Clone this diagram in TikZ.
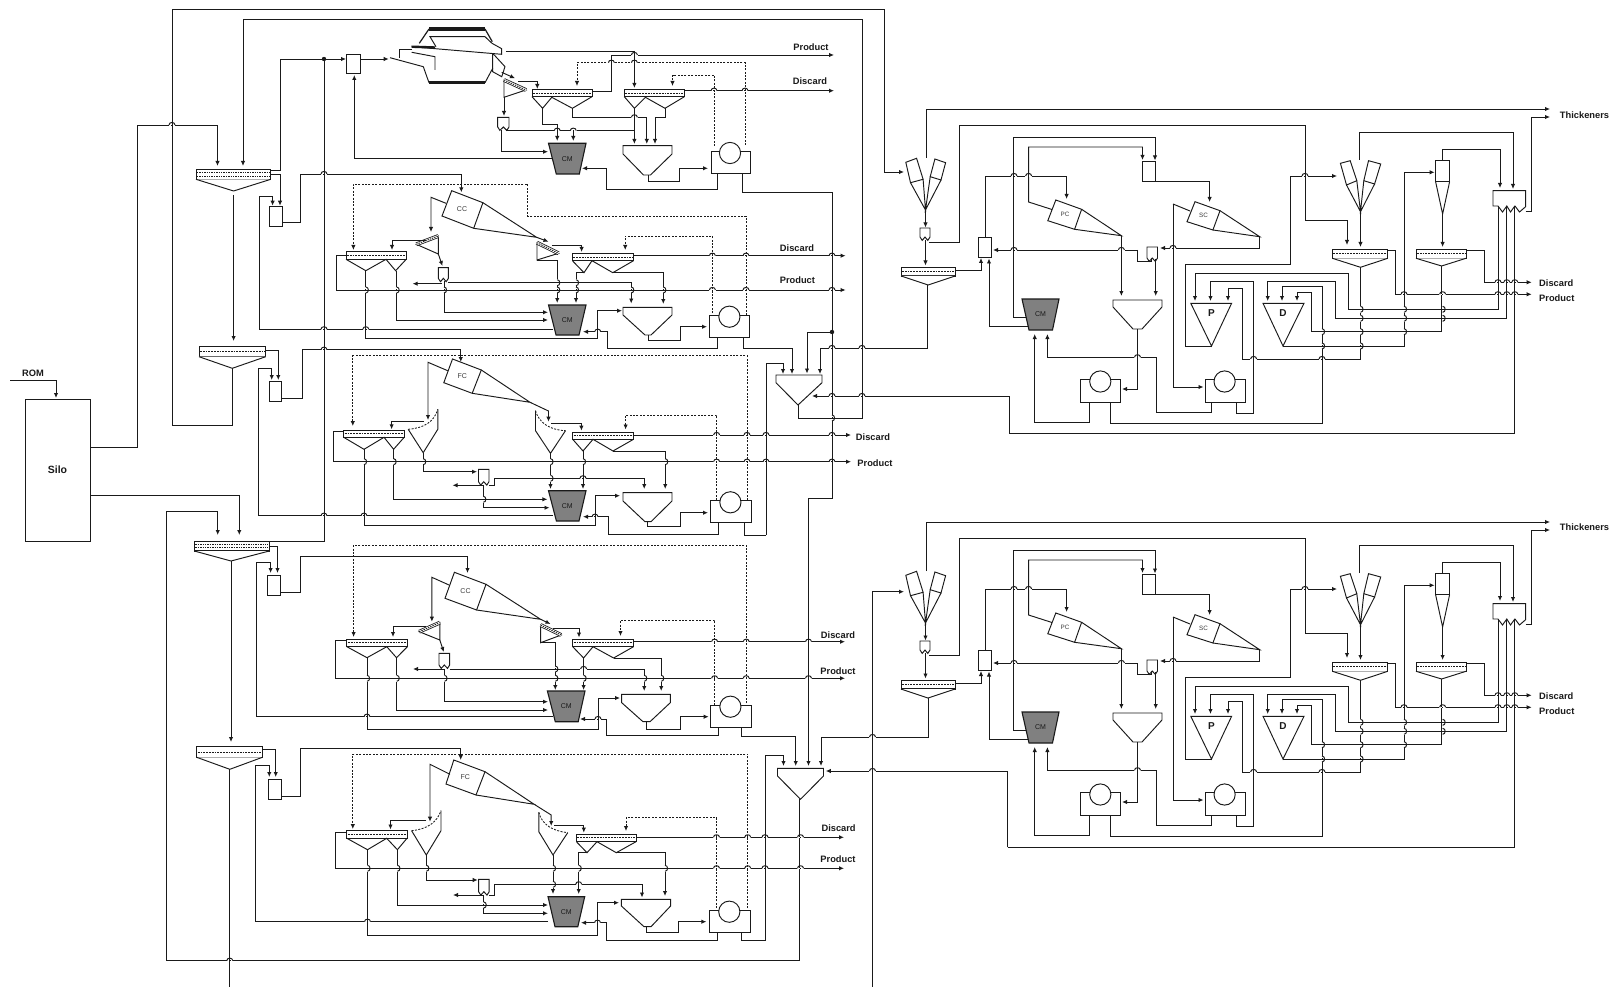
\documentclass[tikz,border=0pt]{standalone}
\usepackage{fontspec}
\setmainfont{Liberation Sans}
\usetikzlibrary{arrows.meta}
\definecolor{ink}{HTML}{1A1A1A}
\definecolor{cmgray}{HTML}{808080}
\tikzset{
 ln/.style={draw=ink,line width=0.95pt,line join=miter},
 ar/.style={ln,-{Latex[length=5pt,width=4.4pt]}},
 ds/.style={draw=ink,line width=0.85pt,dash pattern=on 2pt off 1.4pt},
 dsa/.style={ds,-{Latex[length=5pt,width=4.4pt]}},
 lab/.style={font=\bfseries\fontsize{9.3}{10}\selectfont,text=ink,inner sep=0pt},
 small/.style={font=\fontsize{7}{8}\selectfont,text=ink!85,inner sep=0pt},
 thickbar/.style={draw=ink,line width=3.4pt},
}
% hop of a horizontal line over vertical lines: \HH{y}{x list}
\newcommand\HH[2]{\foreach \u in {#2}{
 \fill[white] ({\u-3.2},{#1-0.8}) rectangle ({\u-0.7},{#1+0.8});
 \fill[white] ({\u+0.7},{#1-0.8}) rectangle ({\u+3.2},{#1+0.8});
 \draw[ln] ({\u-3},{#1}) .. controls ({\u-3},{#1-3.4}) and ({\u+3},{#1-3.4}) .. ({\u+3},{#1});}}
% hop of a vertical line over horizontal lines: \VV{x}{y list}
\newcommand\VV[2]{\foreach \u in {#2}{
 \fill[white] ({#1-0.8},{\u-3.2}) rectangle ({#1+0.8},{\u-0.7});
 \fill[white] ({#1-0.8},{\u+0.7}) rectangle ({#1+0.8},{\u+3.2});
 \draw[ln] ({#1},{\u-3}) .. controls ({#1+3.4},{\u-3}) and ({#1+3.4},{\u+3}) .. ({#1},{\u+3});}}
\newcommand\mydeck[4]{\draw[ln,fill=white] (#1,#2) rectangle (#3,#4);
 \draw[ink,line width=1.2pt] (#1,#4) -- (#3,#4);
 \draw[ink,line width=0.8pt,dash pattern=on 1.8pt off 1pt] ({#1+1},{(#2+#4)/2}) -- ({#3-1},{(#2+#4)/2});}
\newcommand\mydeckd[4]{\draw[ln,fill=white] (#1,#2) rectangle (#3,#4);
 \draw[ink,line width=1.2pt] (#1,#4) -- (#3,#4);
 \draw[ink,line width=0.7pt,dash pattern=on 1.4pt off 1pt] ({#1+1},{#2+3.4}) -- ({#3-1},{#2+3.4});
 \draw[ink,line width=0.7pt,dash pattern=on 1.4pt off 1pt] ({#1+1},{#2+6.6}) -- ({#3-1},{#2+6.6});}
\newcommand\mypump[6]{\draw[ln,fill=white] (#1,#2) rectangle (#3,#4);
 \draw[ln,fill=white] (#5,#6) circle[radius=10.6pt];}
\newcommand\mycm[8]{\draw[draw=ink,line width=1.1pt,fill=cmgray] (#2,#4) -- (#3,#4) -- (#6,#7) -- (#5,#7) -- cycle;
 \node[small,text=ink] (#1) at ({(#2+#3)/2},{(#4+#7)/2}) {#8};}
\newcommand\myubox[4]{\draw[ln,fill=white] (#1,#2) -- (#3,#2) -- (#3,#4) -- ({#3-2.2},{#4+3.4}) -- ({(#1+#3)/2},#4) -- ({#1+2.2},{#4+3.4}) -- (#1,#4) -- cycle;}
\newcommand\mybox[4]{\draw[ln,fill=white] (#1,#2) rectangle (#3,#4);}
% thickener: x1 x2 ytop yside xb1 xb2 ybot
\newcommand\mythick[7]{\draw[ln,fill=white] (#1,#3) -- (#2,#3) -- (#2,#4) -- (#6,#7) -- (#5,#7) -- (#1,#4) -- cycle;}
% sieve bend: deck end a, deck end b, apex (deck is a hatched strip)
\newcommand\mysb[6]{\draw[ln,fill=white] (#1,#2) -- (#3,#4) -- (#5,#6) -- cycle;
 \draw[ink,line width=3.8pt] (#1,#2) -- (#3,#4);
 \draw[white,line width=2.2pt] (#1,#2) -- (#3,#4);
 \draw[ink,line width=0.9pt,dash pattern=on 1.4pt off 1pt] (#1,#2) -- (#3,#4);}
\newcommand\myplant[2]{%
 % double cyclone 1
 \draw[ln,fill=white] (905.8,162.3)--(916.6,158.3)--(923.1,179.3)--(910.5,182.7)--cycle;
 \draw[ln,fill=white] (934.9,159)--(945.6,162.7)--(941,180)--(930.2,176.7)--cycle;
 \draw[ln] (910.5,182.7)--(925.5,210)--(923.1,179.3) (930.2,176.7)--(925.5,210)--(941,180);
 \draw[ar] (925.5,210)--(925.5,227.5);
 \myubox{920}{228}{930}{237}
 \draw[ar] (925.5,240)--(925.5,265.5);
 \mydeck{901}{267}{955}{276}
 \draw[ln,fill=white] (901,276)--(928,285)--(955,276);
 \draw[ar] (955,270)--(981,270)--(981,258);
 \draw[ar] (926,158)--(926,109)--(1550,109);
 \draw[ar] (929,242)--(959,242)--(959,125)--(1305,125)--(1305,220)--(1347,220)--(1347,245);
 % box feeding cyclones
 \mybox{978.5}{237}{991}{257}
 \draw[ar] (985.5,237)--(985.5,176)--(1066.6,176)--(1066.6,199);
 \draw[ar] (1137,250)--(993,250);
 \draw[ln] (1137,250)--(1137,261)--(1151,261)--(1151,258);
 \draw[ar] (1029,326)--(989,326)--(989,258.5);
 % cyclone mill
 \mycm{#1}{1022}{1059}{299}{1029}{1052.5}{330}{CM}
 \draw[ar] (1026,317)--(1013.6,317)--(1013.6,137)--(1155,137)--(1155,160.5);
 \draw[ar] (1053.5,210)--(1028.6,202)--(1028.6,147)--(1142.5,147)--(1142.5,160);
 \mybox{1142.5}{161}{1155}{181}
 \draw[ar] (1155,181)--(1209.6,181)--(1209.6,202);
 % PC
 \draw[ln,fill=white] (1055.8,200)--(1081.6,209.3)--(1074.6,229.3)--(1047.8,220.7)--cycle;
 \draw[ln] (1081.6,209.3)--(1121.4,235.7)--(1074.6,229.3);
 \node[small,font=\fontsize{6.3}{7}\selectfont] at (1065,214) {PC};
 % SC
 \draw[ln] (1173,204)--(1190,211);
 \draw[ln,fill=white] (1195,201.7)--(1220,210.7)--(1212.9,230)--(1187,221.7)--cycle;
 \draw[ln] (1220,210.7)--(1259.7,236.7)--(1212.9,230);
 \node[small,font=\fontsize{6.3}{7}\selectfont] at (1203.5,215.7) {SC};
 \draw[ar] (1173,204)--(1173,387)--(1203.5,387);
 \draw[ar] (1259.7,237)--(1259.7,248)--(1160,248);
 \myubox{1147}{247}{1157.5}{258}
 \draw[ar] (1121.4,236)--(1121.4,296);
 \draw[ar] (1155.7,259)--(1155.7,296);
 \mythick{1113}{1162}{300}{307}{1133}{1142}{329}
 \draw[ar] (1137.5,329)--(1137.5,389)--(1122,389);
 \mypump{1080.6}{379}{1120}{402}{1100.3}{381.5}
 \draw[ar] (1089.6,402)--(1089.6,422.7)--(1034.7,422.7)--(1034.7,334);
 \draw[ar] (1110.7,402)--(1110.7,423)--(1322,423)--(1322,286.7)--(1282,286.7)--(1282,301);
 \mypump{1205}{379}{1245}{402}{1224.6}{381.5}
 \draw[ar] (1211.5,402)--(1211.5,412.7)--(1156.6,412.7)--(1156.6,357.3)--(1047.4,357.3)--(1047.4,334);
 \draw[ar] (1236.3,402)--(1236.3,413)--(1253.6,413)--(1253.6,281.7)--(1210.5,281.7)--(1210.5,301);
 % P, D
 \draw[ln,fill=white] (1190.8,303.3)--(1231.6,303.3)--(1211.5,346)--cycle;
 \node[lab,font=\bfseries\fontsize{10}{11}\selectfont] at (1211.5,313) {P};
 \draw[ln,fill=white] (1263,303.3)--(1304,303.3)--(1283,346)--cycle;
 \node[lab,font=\bfseries\fontsize{10}{11}\selectfont] at (1283,313) {D};
 \draw[ar] (1498,207)--(1498,309.3)--(1348,309.3)--(1348,273.3)--(1195,273.3)--(1195,301);
 \draw[ar] (1360.5,267)--(1360.5,359)--(1242,359)--(1242,288.3)--(1228,288.3)--(1228,301);
 \draw[ar] (1506.8,207)--(1506.8,318.3)--(1335.7,318.3)--(1335.7,281)--(1267.7,281)--(1267.7,301);
 \draw[ar] (1441.6,266)--(1441.6,331.7)--(1311.3,331.7)--(1311.3,292)--(1297,292)--(1297,301);
 \draw[ar] (1283,346)--(1404,346)--(1404,172.3)--(1434.6,172.3);
 \draw[ar] (1211.5,346)--(1185.7,346)--(1185.7,264)--(1290,264)--(1290,176)--(1337,176);
 % right group
 \draw[ln,fill=white] (1340.4,163.3)--(1350.2,160.7)--(1356.8,180.7)--(1346.5,185)--cycle;
 \draw[ln,fill=white] (1368.5,160.7)--(1380.7,164)--(1374.6,184)--(1363.8,180.7)--cycle;
 \draw[ln] (1346.5,185)--(1360.5,211.7)--(1356.8,180.7) (1363.8,180.7)--(1360.5,211.7)--(1374.6,184);
 \draw[ar] (1359.6,160)--(1359.6,132.3)--(1513,132.3)--(1513,189);
 \draw[ar] (1360.5,212)--(1360.5,247);
 \mydeck{1332.4}{249.3}{1387.7}{258.3}
 \draw[ln,fill=white] (1332.4,258.3)--(1360.5,267.3)--(1387.7,258.3);
 \mybox{1435.6}{160.7}{1449.6}{181.7}
 \draw[ln] (1435.6,181.7)--(1442.6,214)--(1449.6,181.7);
 \draw[ar] (1442.6,160.7)--(1442.6,149)--(1500,149)--(1500,188);
 \draw[ar] (1442.6,214)--(1442.6,247);
 \mydeck{1416}{249.3}{1466}{258.3}
 \draw[ln,fill=white] (1416,258.3)--(1441.6,266)--(1466,258.3);
 \draw[ln,fill=white] (1493,190.7)--(1525.6,190.7)--(1525.6,206.7)--(1519.5,212)--(1515,206)--(1514.8,206)--(1510.5,212)--(1506.8,206)--(1502.5,212)--(1498,206)--(1493,206)--cycle;
 \draw[ar] (1525.6,211)--(1531.5,211)--(1531.5,117)--(1550,117);
 \draw[ln] (1514.8,207)--(1514.8,#2);
 \draw[ar] (1387.7,250.7)--(1395.7,250.7)--(1395.7,294.3)--(1531.7,294.3);
 \draw[ar] (1466,250.7)--(1484.8,250.7)--(1484.8,282.3)--(1531.7,282.3);
 % hops
 \HH{176}{1014,1028.6,1305}
 \HH{250}{1014,1121.4}
 \HH{248}{1173}
 \HH{357.3}{1137.5}
 \HH{359}{1253.6,1322}
 \VV{1322}{331.7,346}
 \VV{1360.5}{309.3,318.3,331.7,346}
 \VV{1404}{309.3,318.3,331.7}
 \VV{1442.6}{309.3,318.3}
 \HH{294.3}{1404,1442.6,1498,1506.8,1514.8}
 \HH{282.3}{1498,1506.8,1514.8}
}
\begin{document}
\begin{tikzpicture}[x=1pt,y=-1pt]
\useasboundingbox (0,0) rectangle (1615,987);
\fill[white] (0,0) rectangle (1615,987);
% Silo
\node[ln,fill=white,minimum width=65pt,minimum height=142pt,inner sep=0pt,outer sep=0pt,font=\bfseries\fontsize{10.5}{12}\selectfont,text=ink] (silo) at (57.5,470) {Silo};
\coordinate (romstart) at (10,380);
\draw[ar] (romstart)--(56,380)--(56,398);
\node[lab] (rom) at (33,373) {ROM};
\draw[ar] (silo.east |- 0,447)--(137,447)--(137,125)--(217.5,125)--(217.5,166);
\draw[ar] (silo.east |- 0,495.3)--(239.3,495.3)--(239.3,535);
% long outer lines
\draw[ar] (232,368)--(232,425)--(172,425)--(172,9)--(884,9)--(884,172)--(904,172);
\draw[ar] (798,405)--(798,418)--(862,418)--(862,19)--(243,19)--(243,166);
%% SCREENS left
\mydeckd{196}{169.3}{270.8}{179.3}
\draw[ln,fill=white] (196,179.3)--(233.6,191)--(270.8,179.3);
\draw[ar] (233.6,195)--(233.6,341);
\draw[ar] (270.8,170)--(280,170)--(280,59)--(346,59);
\fill[ink] (324,59) circle[radius=2.2pt];
\draw[ln] (269,541.7)--(324,541.7)--(324,59);
\mybox{346.5}{54}{360}{73.3}
\draw[ar] (553,158.3)--(354.3,158.3)--(354.3,75);
\draw[ar] (270.8,174)--(280,174)--(280,205.7);
\mybox{269.4}{206.7}{282.2}{226.7}
\draw[ar] (259.3,329.3)--(259.3,196.7)--(272.6,196.7)--(272.6,205.7);
\draw[ln] (259.3,329.3)--(553,329.3);
\draw[ar] (282.2,222.7)--(300.6,222.7)--(300.6,174)--(461.3,174)--(461.3,192.3);
%% MILL
\draw[ar] (360,59)--(388.7,59);
\draw[thickbar] (429,29)--(485,29);
\draw[thickbar] (429,82.7)--(485,82.7);
\draw[ln,line width=1.2pt] (429,29)--(419.3,43.3) (485,29)--(492.3,41.7);
\draw[ln] (436,46.7)--(430,36.7)--(485,36.7)--(492,43.3)--(501.7,48.7)--(501.7,54.3)--(411.7,46.7);
\draw[draw=ink,line width=2.4pt] (411.7,46.7)--(435,47.5);
\draw[ln] (390,57.7)--(423.3,66.7)--(429,82.7);
\draw[ln] (399.3,57.7)--(399.3,49)--(411.7,49);
\draw[ln] (411.7,52.3)--(435,56.7)--(435,70);
\draw[ln] (485,82.7)--(492.7,68.3);
\draw[ln] (492.7,53.3)--(492.7,71.7)--(501.7,76.7)--(505,66.7)--(492.7,53.3);
\draw[ar] (501.7,72.3)--(515,78.3);
\mysb{504}{80}{526}{90}{504}{97.3}
\draw[ar] (518.3,81.7)--(537.3,81.7)--(537.3,89);
\draw[ar] (504,97)--(504,116);
\myubox{497.7}{117.3}{509}{127}
\mydeck{532}{89.3}{592}{96.7}
\draw[ln] (532,96.7)--(542.6,108.3)--(551.8,97.3)--(572.4,108.3)--(592,96.7);
\mydeck{624.3}{89.3}{684.4}{96.7}
\draw[ln] (624.3,96.7)--(634.4,108.3)--(645.4,97.3)--(665,108.3)--(684.4,96.7);
\draw[ar] (542.6,108.3)--(542.6,124)--(557.2,124)--(557.2,141);
\draw[ar] (572.4,108.3)--(572.4,117.3)--(646.8,117.3)--(646.8,144);
\draw[ar] (634.4,108.3)--(634.4,144);
\draw[ar] (665,108.3)--(665,117.3)--(655,117.3)--(655,144);
\draw[ln] (505.8,130.7)--(634.4,130.7);
\draw[ar] (573.3,130.7)--(573.3,141);
\draw[ar] (501.2,130)--(501.2,151.7)--(548,151.7);
\draw[ln] (505.8,51)--(634.4,51);
\draw[ar] (634.4,51)--(634.4,88);
\draw[ar] (592,91.3)--(611.4,91.3)--(611.4,55)--(834,55);
\draw[ar] (684.4,90.7)--(834,90.7);
\draw[dsa] (745,145)--(745,62.7)--(577,62.7)--(577,86);
\draw[dsa] (714,146)--(714,75)--(672.5,75)--(672.5,86);
\mythick{623}{672}{145.7}{154}{643.5}{650.5}{175}
\draw[ar] (648,175)--(648,181)--(679.4,181)--(679.4,168.3)--(708,168.3);
\mypump{711}{151.7}{750.5}{173.3}{730}{153}
\draw[ar] (717,173.3)--(717,189.3)--(606.8,189.3)--(606.8,168.3)--(582,168.3);
\draw[ln] (742,173.3)--(742,192.3)--(832,192.3)--(832,498)--(808.5,498);
\draw[ar] (808.5,498)--(808.5,766);
\mycm{cma}{548.5}{586}{143.3}{556.3}{579.3}{174}{CM}
\node[lab] (proda) at (811,47) {Product};
\node[lab] (disca) at (810,81) {Discard};
%% SECTION 2 CC
\draw[dsa] (746,315)--(746,216)--(527.9,216)--(527.9,184)--(353.4,184)--(353.4,250);
\draw[ln,fill=white] (451.7,190.7)--(482.9,202.7)--(473.7,228.3)--(442,216)--cycle;
\draw[ln] (482.9,202.7)--(536.6,237.3)--(473.7,228.3);
\node[small] (ccb) at (462,209) {CC};
\draw[ar] (446,203.3)--(431,197.3)--(431,232);
\mysb{416.3}{244.3}{438.3}{236}{438.3}{254}
\draw[ar] (425.5,240)--(392,240)--(392,250);
\draw[ar] (438.3,254)--(442.5,266);
\mydeck{346}{251.7}{406.2}{259.3}
\draw[ln] (346,259.3)--(365.8,270.7)--(386,259.3)--(395.6,270.7)--(406.2,259.3);
\draw[ar] (346,255)--(336,255)--(336,290)--(845.6,290);
\draw[ar] (633.5,255.7)--(845.6,255.7);
\draw[ar] (365.8,270.7)--(365.8,338.7)--(597.7,338.7)--(597.7,310.7)--(622,310.7);
\draw[ar] (396.6,270.7)--(396.6,320)--(548,320);
\myubox{438.3}{267.7}{448.4}{278.3}
\draw[ar] (444,281)--(444,312.3)--(548,312.3);
\draw[ar] (441.5,283.7)--(412.6,283.7);
\draw[ar] (448.4,282.7)--(631.2,282.7)--(631.2,303.5);
\draw[ar] (536.6,237.3)--(548.5,241.7);
\mysb{537}{242.7}{558.6}{253.3}{537}{260}
\draw[ar] (551.8,245)--(581.6,245)--(581.6,252);
\draw[ar] (537,260)--(557.2,260)--(557.2,303);
\mydeck{572.4}{253.3}{633.5}{260.7}
\draw[ln] (572.4,260.7)--(584,272.7)--(592,260.7)--(612.8,272.7)--(633.5,260.7);
\draw[ar] (584,272.7)--(576,272.7)--(576,303);
\draw[ar] (612.8,272.7)--(663.3,272.7)--(663.3,304);
\draw[dsa] (712.4,313)--(712.4,236)--(625.2,236)--(625.2,250);
\mythick{623}{672}{307.3}{315}{645}{651}{335}
\mypump{709}{315}{749}{337.3}{729.4}{316.7}
\draw[ar] (717.4,337)--(717.4,348)--(607.5,348)--(607.5,331.7)--(583,331.7);
\draw[ar] (648,335)--(648,340)--(680,340)--(680,326.7)--(707,326.7);
\draw[ar] (743,337)--(743,348)--(792,348)--(792,374);
\mycm{cmb}{548.5}{586}{305}{556}{579}{335}{CM}
\node[lab] (prodb) at (797.4,280) {Product};
\node[lab] (discb) at (797,248) {Discard};
%% T1
\mythick{776}{822}{375}{382.7}{798}{798}{405}
\draw[ar] (766,535)--(766,363)--(783,363)--(783,374);
\draw[ar] (832,332)--(807,332)--(807,373.5);
\fill[ink] (832,332) circle[radius=2.2pt];
\draw[ar] (927,285)--(927,348)--(820,348)--(820,374);
%% SECTION 3 FC
\mydeck{199}{346}{265.7}{356.7}
\draw[ln,fill=white] (199,356.7)--(232.3,368.3)--(265.7,356.7);
\draw[ar] (265.7,350)--(278.3,350)--(278.3,380);
\draw[ar] (552.5,515.7)--(258.3,515.7)--(258.3,368.3)--(271.7,368.3)--(271.7,380);
\mybox{269.3}{381.7}{281.7}{401.7}
\draw[ar] (281.7,398.3)--(302.2,398.3)--(302.2,349.7)--(460.8,349.7)--(460.8,362);
\draw[dsa] (747,500)--(747,355.7)--(352.8,355.7)--(352.8,426);
\draw[ln,fill=white] (452.5,359)--(481.3,370)--(472.2,393.3)--(443.8,382.7)--cycle;
\draw[ln] (481.3,370)--(530,402.3)--(472.2,393.3);
\node[small] (fcc) at (462.3,376) {FC};
\draw[ar] (447.7,370.7)--(428,362.3)--(428,420);
\draw[ln] (437.8,409.3)--(437.8,429.3)--(423.2,452.7)--(408.2,429.3);
\draw[ds] (408.2,429.3) .. controls (424,428) and (434,422) .. (437.8,409.3);
\draw[ar] (424,421)--(391.6,421)--(391.6,429.3);
\mydeck{343.7}{430}{404.2}{437.3}
\draw[ln] (343.7,437.3)--(364,449.3)--(384,437.3)--(393.6,449.3)--(404.2,437.3);
\draw[ln] (343.7,431.7)--(333,431.7)--(333,461.7);
\draw[ar] (333,461.7)--(851,461.7);
\draw[ar] (633.5,435)--(851,435);
\draw[ar] (364,449.3)--(364,525)--(595,525)--(595,495.7)--(620,495.7);
\draw[ar] (393.6,449.3)--(393.6,499.3)--(547.4,499.3);
\draw[ar] (423.2,452.7)--(423.2,471.7)--(477,471.7);
\myubox{478.5}{469.3}{489}{481.7}
\draw[ar] (483.3,485.3)--(452.5,485.3);
\draw[ar] (483.3,485)--(483.3,507.7)--(549.5,507.7);
\draw[ar] (489,485.3)--(494.4,485.3)--(494.4,478.3)--(644.2,478.3)--(644.2,489);
\draw[ln] (535.5,410.7)--(535.5,430.7)--(550.5,453.3)--(565.5,430.7);
\draw[ds] (535.5,410.7) .. controls (539,423) and (550,430) .. (565.5,430.7);
\draw[ar] (530,402.3)--(548.5,411)--(548.5,421.7);
\draw[ar] (551.3,423.3)--(581.4,423.3)--(581.4,430.7);
\draw[ar] (550.5,453.3)--(550.5,489);
\mydeck{572.7}{432.3}{633.5}{439.3}
\draw[ln] (572.7,439.3)--(583,451)--(593,439.3)--(613,451)--(633.5,439.3);
\draw[ar] (583,451)--(583,489);
\draw[ar] (613,451)--(665.2,451)--(665.2,489);
\draw[dsa] (716.6,500)--(716.6,415)--(625.6,415)--(625.6,429.5);
\mythick{623}{672}{492.7}{501}{645}{651}{521.7}
\draw[ar] (647.4,521.7)--(647.4,526.7)--(680,526.7)--(680,512.7)--(708,512.7);
\mypump{710.7}{500}{751}{522.7}{730.4}{502.3}
\draw[ar] (718.6,522.7)--(718.6,534)--(608.6,534)--(608.6,516.7)--(583,516.7);
\draw[ln] (744.3,522.7)--(744.3,535)--(766,535);
\mycm{cmc}{548.5}{586}{490.7}{556.4}{579}{521}{CM}
\node[lab] (discc) at (873,436.7) {Discard};
\node[lab] (prodc) at (875,463.3) {Product};
%% SECTION 4 CC
\draw[ar] (799.6,799.3)--(799.6,960.7)--(166.7,960.7)--(166.7,511)--(217.7,511)--(217.7,535);
\mydeckd{194.3}{541}{269.3}{551}
\draw[ln,fill=white] (194.3,551)--(231,561)--(269.3,551);
\draw[ar] (231,561)--(231,742);
\draw[ar] (269.3,546)--(277.5,546)--(277.5,573);
\draw[ar] (552.5,716.7)--(256.3,716.7)--(256.3,562.3)--(270.6,562.3)--(270.6,573);
\mybox{267.8}{575}{280.4}{595}
\draw[ar] (280.4,592)--(300.6,592)--(300.6,556.3)--(467.5,556.3)--(467.5,573);
\draw[dsa] (746.2,703)--(746.2,545)--(353.6,545)--(353.6,637);
\draw[ln,fill=white] (454.4,572.3)--(486,584.3)--(476.6,610)--(445,598.3)--cycle;
\draw[ln] (486,584.3)--(540.6,619.3)--(476.6,610);
\node[small] (ccd) at (465.5,591) {CC};
\draw[ar] (449,585)--(431.9,577.3)--(431.9,621.7);
\mysb{419.2}{631.7}{439.8}{622.7}{439.8}{640}
\draw[ar] (426,626.7)--(393,626.7)--(393,637);
\draw[ar] (439.8,640)--(443.8,652);
\mydeck{346.9}{639}{407.4}{646.7}
\draw[ln] (346.9,646.7)--(367,657.7)--(386.8,646.7)--(396.5,657.7)--(407.4,646.7);
\draw[ln] (346.9,640.7)--(335,640.7)--(335,678.3);
\draw[ar] (335,678.3)--(845,678.3);
\draw[ar] (633.5,641.7)--(845,641.7);
\draw[ar] (367,657.7)--(367,729.3)--(598,729.3)--(598,698)--(620,698);
\draw[ar] (396.7,657.7)--(396.7,710)--(548,710);
\myubox{439}{653.3}{449.7}{665}
\draw[ar] (443.8,669)--(413,669);
\draw[ar] (444.5,669)--(444.5,701.7)--(548,701.7);
\draw[ar] (449.7,669)--(644.2,669)--(644.2,691);
\draw[ar] (540.6,619.3)--(550.5,624);
\mysb{540.6}{625}{561.2}{635}{540.6}{642.7}
\draw[ar] (552.5,628.3)--(579,628.3)--(579,637.5);
\draw[ar] (540.6,642.7)--(555.3,642.7)--(555.3,690);
\mydeck{572.7}{639}{633.5}{646.7}
\draw[ln] (572.7,646.7)--(583.6,658)--(593,646.7)--(613.6,658)--(633.5,646.7);
\draw[ar] (583.6,658)--(583.6,690);
\draw[ar] (613.6,658)--(661.2,658)--(661.2,691);
\draw[dsa] (714.6,705)--(714.6,620)--(620.5,620)--(620.5,636);
\mythick{621.7}{670.3}{694.3}{702.7}{643}{650}{721.7}
\draw[ar] (646.2,722)--(646.2,729)--(680,729)--(680,716.7)--(708.7,716.7);
\mypump{710.7}{705}{751}{727.3}{730.4}{706.7}
\draw[ar] (718.6,727)--(718.6,735)--(606,735)--(606,719)--(580,719);
\draw[ar] (741.5,727)--(741.5,736.7)--(795.7,736.7)--(795.7,766);
\mycm{cmd}{547.4}{585}{691}{555.3}{578.2}{721.7}{CM}
\node[lab] (discd) at (838,635) {Discard};
\node[lab] (prodd) at (838,670.7) {Product};
%% SECTION 5 FC
\mydeck{196.7}{746.7}{262.4}{757.3}
\draw[ln,fill=white] (196.7,757.3)--(229.8,769.3)--(262.4,757.3);
\draw[ln] (229.8,769.3)--(229.8,987);
\draw[ar] (262.4,749.3)--(275.7,749.3)--(275.7,777);
\draw[ar] (548,921.7)--(255.5,921.7)--(255.5,765)--(269.3,765)--(269.3,777);
\mybox{268.4}{779.3}{281.2}{799}
\draw[ar] (281.2,796)--(300,796)--(300,748.3)--(460.7,748.3)--(460.7,760);
\draw[dsa] (747.7,908)--(747.7,754)--(352.8,754)--(352.8,829);
\draw[ln,fill=white] (453.8,760)--(485,771.7)--(476,795)--(446,784)--cycle;
\draw[ln] (485,771.7)--(534.2,804.3)--(476,795);
\node[small] (fce) at (465.3,777.3) {FC};
\draw[ar] (450,774.3)--(430,764.3)--(430,821.7);
\draw[ln] (441,810.7)--(441,830.7)--(426.3,855)--(411.6,830.7);
\draw[ds] (411.6,830.7) .. controls (428,829) and (437,822) .. (441,810.7);
\draw[ar] (426.3,820.7)--(390.5,820.7)--(390.5,829.5);
\mydeck{346.9}{830.7}{407}{838.3}
\draw[ln] (346.9,838.3)--(367.5,849.7)--(386.7,838.3)--(397.4,849.7)--(407,838.3);
\draw[ln] (346.9,832.7)--(335.4,832.7)--(335.4,868.3);
\draw[ar] (335.4,868.3)--(844,868.3);
\draw[ar] (636,837.3)--(844,837.3);
\draw[ar] (367.5,849.7)--(367.5,935)--(597.5,935)--(597.5,902.7)--(619,902.7);
\draw[ar] (397.4,849.7)--(397.4,905)--(548,905);
\draw[ar] (426.3,855)--(426.3,880)--(477.7,880);
\myubox{478.6}{879.3}{489.2}{891.7}
\draw[ar] (483.7,895)--(453,895);
\draw[ar] (483.7,895)--(483.7,913.3)--(548,913.3);
\draw[ar] (489.2,895)--(494.2,895)--(494.2,884.3)--(642,884.3)--(642,897.5);
\draw[ln] (538.8,812.3)--(538.8,831.7)--(553,855)--(567.7,832.7);
\draw[ds] (538.8,812.3) .. controls (542,825) and (553,831) .. (567.7,832.7);
\draw[ar] (534.2,804.3)--(551.2,815)--(551.2,826);
\draw[ar] (554,825)--(583.8,825)--(583.8,832.7);
\draw[ar] (553,855)--(553,894);
\mydeck{576.4}{834}{636}{841.7}
\draw[ln] (576.4,841.7)--(587,852.7)--(597,841.7)--(616.3,852.7)--(636,841.7);
\draw[ar] (587,852.7)--(578.7,852.7)--(578.7,894);
\draw[ar] (616.3,852.7)--(665,852.7)--(665,896);
\draw[dsa] (716.5,908)--(716.5,817.7)--(626,817.7)--(626,831);
\mythick{621.4}{670.6}{899.3}{906}{644}{651}{926.7}
\draw[ar] (646.7,926.7)--(646.7,932.7)--(678.8,932.7)--(678.8,921.7)--(706.4,921.7);
\mypump{709.6}{910}{750}{932.7}{729.3}{911.7}
\draw[ar] (717,932.7)--(717,940.7)--(606.3,940.7)--(606.3,922.7)--(581,922.7);
\draw[ar] (741.7,932.7)--(741.7,940)--(765,940)--(765,755)--(783.5,755)--(783.5,766);
\mycm{cme}{548}{584.7}{896.7}{555}{577.8}{926.7}{CM}
\node[lab] (disce) at (838.6,827.7) {Discard};
\node[lab] (prode) at (838,859.3) {Product};
%% T2
\mythick{777.5}{823.5}{768.3}{776}{800.5}{800.5}{799.3}
\draw[ar] (928,698)--(928,737)--(821,737)--(821,766);
\draw[ar] (1007.5,847.3)--(1007.5,771)--(825.8,771);
\draw[ln] (1007.5,847.3)--(1514.8,847.3);
\draw[ar] (1009,433)--(1009,396)--(812,396);
\draw[ln] (1009,433)--(1514.8,433);
% lower plant feed
\draw[ar] (872.5,987)--(872.5,591.7)--(904,591.7);
%% PLANTS
\myplant{cmf}{433}
\begin{scope}[shift={(0,413)}]
\myplant{cmg}{434.3}
\end{scope}
\node[lab] (thka) at (1584.5,115) {Thickeners};
\node[lab] (thkb) at (1584.5,527) {Thickeners};
\node[lab,anchor=west] (discf) at (1539,282.7) {Discard};
\node[lab,anchor=west] (prodf) at (1539,298.3) {Product};
\node[lab,anchor=west] (discg) at (1539,695.7) {Discard};
\node[lab,anchor=west] (prodg) at (1539,711.5) {Product};
%% HOPS
\HH{125}{172}
\HH{174}{324}
\HH{329.3}{324,365.8}
\HH{349.7}{324}
\HH{515.7}{324,364}
\HH{716.7}{367}
\HH{921.7}{367.5}
\HH{960.7}{229.8}
\HH{55}{634.4}
\HH{62.7}{611.4,634.4}
\HH{90.7}{714,745}
\HH{117.3}{634.4}
\HH{130.7}{557.2,573.3}
\HH{255.7}{712.4,746,832}
\VV{365.8}{290} \VV{396.6}{290} \VV{444}{290} \VV{557.2}{282.7,290} \VV{576}{282.7,290} \VV{631.2}{290} \VV{663.3}{290}
\HH{290}{712.4,746,832}
\HH{331.7}{597.7}
\HH{348}{832,862}
\HH{396}{832,862}
\VV{832}{418}
\HH{435}{716.6,747,766,832}
\HH{461.7}{716.6,747,766,832}
\VV{364}{461.7} \VV{393.6}{461.7} \VV{423.2}{461.7} \VV{550.5}{461.7,478.3} \VV{583}{461.7} \VV{665.2}{461.7}
\HH{478.3}{583}
\VV{483.3}{499.3}
\HH{516.7}{595}
\HH{641.7}{714.6,746.2,808.5}
\HH{678.3}{714.6,746.2,808.5}
\VV{367}{678.3} \VV{396.7}{678.3} \VV{444.5}{678.3} \VV{555.3}{669,678.3} \VV{583.6}{678.3} \VV{644.2}{678.3} \VV{661.2}{678.3}
\HH{669}{583.6}
\HH{719}{598}
\HH{837.3}{716.5,747.7,765,800.5}
\HH{868.3}{716.5,747.7,765,800.5}
\VV{367.5}{868.3} \VV{397.4}{868.3} \VV{426.3}{868.3} \VV{553}{868.3,884.3} \VV{578.7}{868.3} \VV{665}{868.3}
\HH{884.3}{578.7}
\VV{483.7}{905}
\HH{922.7}{597.5}
\HH{737}{872.5}
\HH{771}{872.5}
\end{tikzpicture}
\end{document}
